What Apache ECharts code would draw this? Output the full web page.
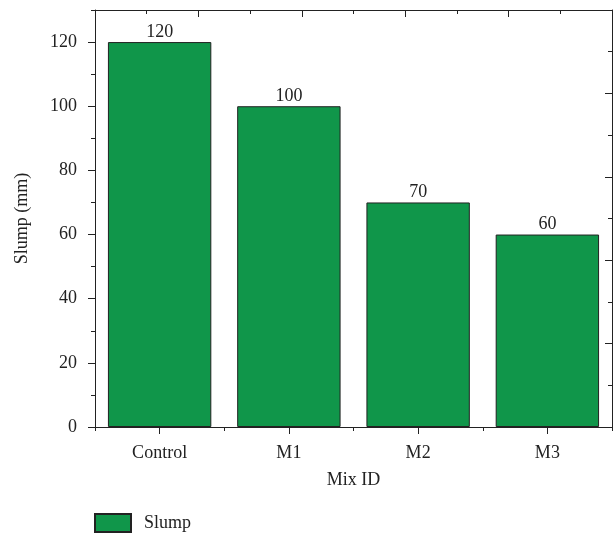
<!DOCTYPE html>
<html>
<head>
<meta charset="utf-8">
<script src="https://cdn.jsdelivr.net/npm/echarts@6/dist/echarts.min.js"></script>
<style>
  html, body { margin: 0; padding: 0; background: #fff; }
  #chart { width: 615px; height: 534px; }
</style>
</head>
<body>
<div id="chart"></div>
<script>
// Slump test results per mix
const mixIds = ['Control', 'M1', 'M2', 'M3'];
const slumpValues = [120, 100, 70, 60];
const yMajorTicks = [0, 20, 40, 60, 80, 100, 120];
const yMinorTicks = [10, 30, 50, 70, 90, 110, 130];

const FONT = '"Liberation Serif", "DejaVu Serif", serif';
const INK = '#222';
const BAR = '#10964a';
const FS = 18;

const chart = echarts.init(document.getElementById('chart'), null, { renderer: 'canvas' });

const lineStyle = { color: INK, width: 1 };

chart.setOption({
  animation: false,
  textStyle: { fontFamily: FONT },
  grid: { left: 95, right: 3, top: 10, bottom: 107, containLabel: false },
  legend: {
    left: 94, top: 513, padding: 0,
    itemWidth: 36, itemHeight: 18,
    icon: 'rect',
    data: ['Slump'],
    textStyle: { fontFamily: FONT, fontSize: FS, color: INK, padding: [0, 0, 0, 8] }
  },
  xAxis: [
    {
      type: 'category', position: 'bottom', data: mixIds,
      name: 'Mix ID', nameLocation: 'middle', nameGap: 44,
      nameTextStyle: { fontFamily: FONT, fontSize: FS, color: INK },
      axisLine: { show: true, onZero: false, lineStyle },
      axisTick: { show: true, interval: 0, alignWithLabel: true, length: 7, lineStyle },
      axisLabel: { fontFamily: FONT, fontSize: FS, color: INK, margin: 17 }
    },
    {
      // two units per category: boundaries at even values, centres as minor ticks
      type: 'value', position: 'bottom', min: 0, max: 2 * mixIds.length, interval: 2,
      axisLine: { show: false, onZero: false },
      axisTick: { show: true, length: 4, lineStyle },
      minorTick: { show: true, splitNumber: 2, length: 7, lineStyle },
      axisLabel: { show: false },
      splitLine: { show: false }
    },
    {
      type: 'value', position: 'top', min: 0, max: 10, interval: 2,
      axisLine: { show: true, onZero: false, lineStyle },
      axisTick: { show: true, inside: true, length: 7, lineStyle },
      minorTick: { show: true, splitNumber: 2, length: 4, lineStyle },
      axisLabel: { show: false },
      splitLine: { show: false }
    }
  ],
  yAxis: [
    {
      type: 'value', position: 'left', min: 0, max: 130,
      name: 'Slump (mm)', nameLocation: 'middle', nameGap: 64,
      nameTextStyle: { fontFamily: FONT, fontSize: FS, color: INK },
      axisLine: { show: true, onZero: false, lineStyle },
      axisTick: { show: true, length: 7, lineStyle, customValues: yMajorTicks },
      axisLabel: { fontFamily: FONT, fontSize: FS, color: INK, margin: 18, customValues: yMajorTicks },
      splitLine: { show: false }
    },
    {
      type: 'value', position: 'left', min: 0, max: 130,
      axisLine: { show: false, onZero: false },
      axisTick: { show: true, length: 4, lineStyle, customValues: yMinorTicks },
      axisLabel: { show: false, customValues: yMinorTicks },
      splitLine: { show: false }
    },
    {
      type: 'value', position: 'right', min: 0, max: 10, interval: 2,
      axisLine: { show: true, onZero: false, lineStyle },
      axisTick: { show: true, inside: true, length: 7, lineStyle },
      minorTick: { show: true, splitNumber: 2, length: 4, lineStyle },
      axisLabel: { show: false },
      splitLine: { show: false }
    }
  ],
  series: [
    {
      name: 'Slump', type: 'bar', xAxisIndex: 0, yAxisIndex: 0,
      data: slumpValues,
      barCategoryGap: '20%',
      itemStyle: { color: BAR, borderColor: INK, borderWidth: 1 },
      label: {
        show: true, position: 'top', distance: 1,
        fontFamily: FONT, fontSize: FS, color: INK
      }
    }
  ]
});
</script>
</body>
</html>
